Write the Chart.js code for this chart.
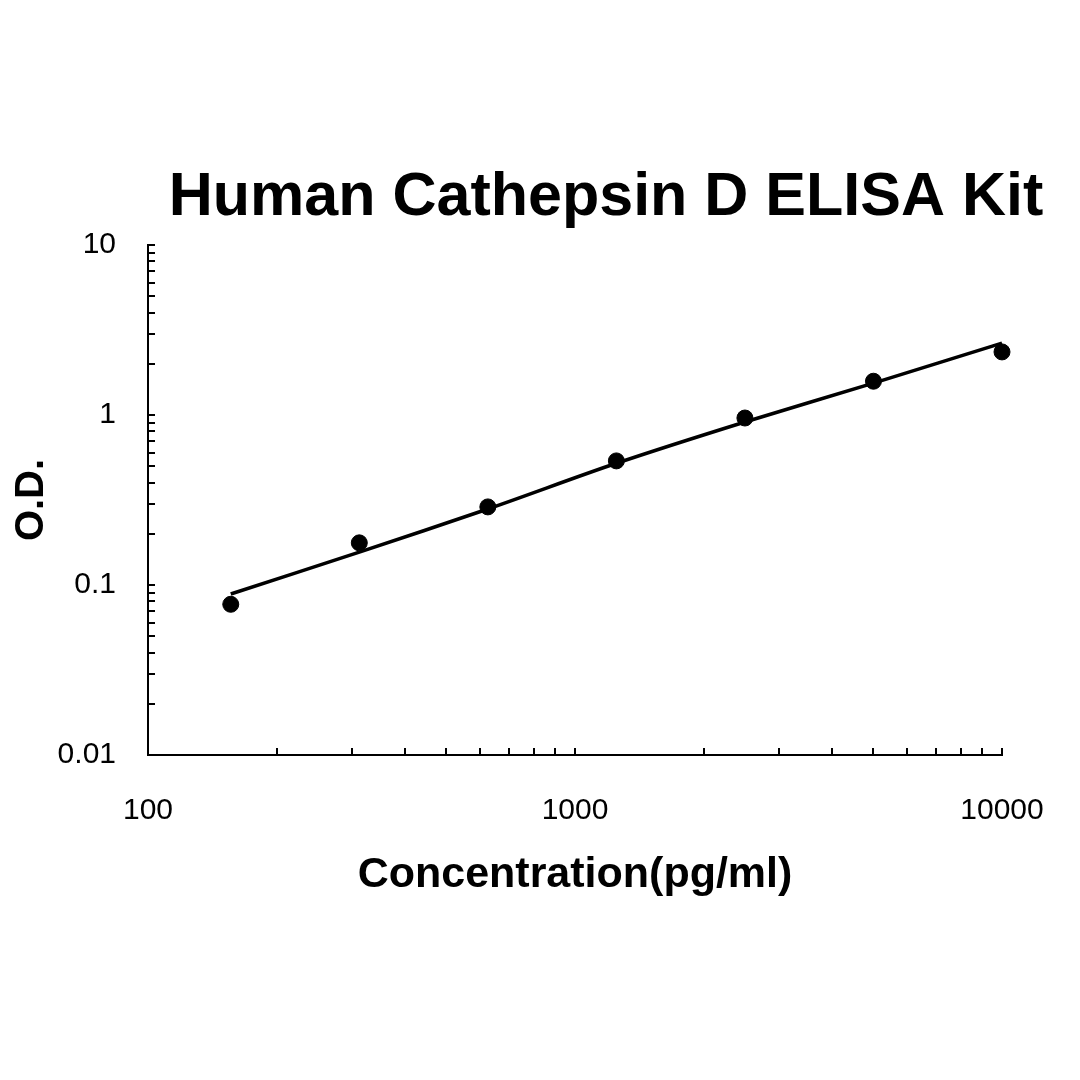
<!DOCTYPE html>
<html>
<head>
<meta charset="utf-8">
<title>Human Cathepsin D ELISA Kit</title>
<script src="https://cdn.jsdelivr.net/npm/chart.js@4"></script>
<style>
  html, body { margin: 0; padding: 0; background: #fff; }
  #wrap { width: 1080px; height: 1080px; }
</style>
</head>
<body>
<div id="wrap"><canvas id="chart" width="1080" height="1080"></canvas></div>
<script>
// standard curve
var concentrations = [156.25, 312.5, 625, 1250, 2500, 5000, 10000];
var odValues = [0.077, 0.177, 0.288, 0.537, 0.96, 1.58, 2.35];
var fitValues = [0.0885, 0.156, 0.28, 0.52, 0.91, 1.54, 2.65];

var chartTitle = 'Human Cathepsin D ELISA Kit';
var xTitle = 'Concentration(pg/ml)';
var yTitle = 'O.D.';

// tick marks: every 1..9 multiple inside each decade, labels only on powers of ten
var xDecades = [100, 1000];
var yDecades = [0.01, 0.1, 1];

function decadeTicks(decades) {
  var list = [];
  decades.forEach(function(d) {
    for (var m = 1; m < 10; m++) list.push(+(d * m).toPrecision(6));
  });
  list.push(+(decades[decades.length - 1] * 10).toPrecision(6));
  return list;
}
var xTickValues = decadeTicks(xDecades);
var yTickValues = decadeTicks(yDecades);

function powerLabel(v) {
  var l = Math.log10(v);
  return Math.abs(l - Math.round(l)) < 1e-6 ? String(v) : '';
}

var pointsData = concentrations.map(function(c, i) { return { x: c, y: odValues[i] }; });
var fitData = concentrations.map(function(c, i) { return { x: c, y: fitValues[i] }; });

// main title drawn over the canvas
var titlePlugin = {
  id: 'mainTitle',
  afterDraw: function(chart) {
    var ctx = chart.ctx;
    ctx.save();
    ctx.font = 'bold 61px "Liberation Sans", Arial, sans-serif';
    ctx.fillStyle = '#000';
    ctx.textAlign = 'center';
    ctx.textBaseline = 'alphabetic';
    ctx.fillText(chartTitle, 606, 215);
    ctx.restore();
  }
};

Chart.defaults.font.family = '"Liberation Sans", Arial, sans-serif';
Chart.defaults.color = '#000';

var ctx = document.getElementById('chart').getContext('2d');
var chart = new Chart(ctx, {
  type: 'scatter',
  data: {
    datasets: [{
      label: 'fit',
      data: fitData,
      showLine: true,
      borderColor: '#000',
      borderWidth: 3.5,
      pointRadius: 0,
      tension: 0.3,
      fill: false,
      clip: false
    }, {
      label: 'standards',
      data: pointsData,
      showLine: false,
      backgroundColor: '#000',
      borderColor: '#000',
      pointRadius: 8,
      pointHoverRadius: 8,
      clip: false
    }]
  },
  options: {
    responsive: false,
    devicePixelRatio: 1,
    animation: false,
    layout: { padding: { left: 0, right: 78, top: 245, bottom: 0 } },
    plugins: {
      legend: { display: false },
      tooltip: { enabled: false }
    },
    scales: {
      x: {
        type: 'logarithmic',
        min: 100,
        max: 10000,
        afterBuildTicks: function(scale) {
          scale.ticks = xTickValues.map(function(v) { return { value: v }; });
        },
        afterFit: function(scale) {
          scale.height = 325;
          scale.paddingLeft = 0;
          scale.paddingRight = 0;
        },
        ticks: {
          autoSkip: false,
          maxRotation: 0,
          padding: 45,
          font: { size: 30 },
          callback: function(v) { return powerLabel(v); }
        },
        grid: { drawOnChartArea: false, drawTicks: true, tickLength: -7, color: '#000', lineWidth: 2 },
        border: { display: true, color: '#000', width: 2 },
        title: {
          display: true,
          text: xTitle,
          font: { size: 43, weight: 'bold' },
          padding: { top: 4, bottom: 179 }
        }
      },
      y: {
        type: 'logarithmic',
        min: 0.01,
        max: 10,
        afterBuildTicks: function(scale) {
          scale.ticks = yTickValues.map(function(v) { return { value: v }; });
        },
        afterFit: function(scale) {
          scale.width = 148;
          scale.paddingTop = 0;
          scale.paddingBottom = 0;
        },
        ticks: {
          autoSkip: false,
          padding: 39,
          font: { size: 30 },
          callback: function(v) { return powerLabel(v); }
        },
        grid: { drawOnChartArea: false, drawTicks: true, tickLength: -7, color: '#000', lineWidth: 2 },
        border: { display: true, color: '#000', width: 2 },
        title: {
          display: true,
          text: yTitle,
          font: { size: 40, weight: 'bold' },
          padding: { top: 8, bottom: 4 }
        }
      }
    }
  },
  plugins: [titlePlugin]
});
</script>
</body>
</html>
